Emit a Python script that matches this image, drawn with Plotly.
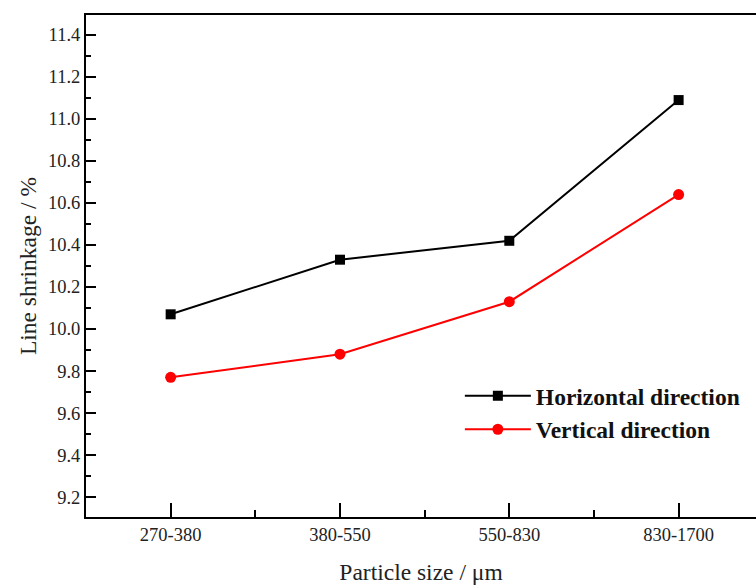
import plotly.graph_objects as go

categories = ["270-380", "380-550", "550-830", "830-1700"]
horizontal = [10.07, 10.33, 10.42, 11.09]
vertical = [9.77, 9.88, 10.13, 10.64]
y_ticks = [9.2, 9.4, 9.6, 9.8, 10.0, 10.2, 10.4, 10.6, 10.8, 11.0, 11.2, 11.4]

xpos = list(range(len(categories)))
font_family = "Liberation Serif, Times New Roman, serif"

fig = go.Figure()
fig.add_trace(go.Scatter(
    x=xpos, y=horizontal, mode="lines+markers", name="Horizontal direction",
    line=dict(color="black", width=2),
    marker=dict(symbol="square", size=10, color="black"),
))
fig.add_trace(go.Scatter(
    x=xpos, y=vertical, mode="lines+markers", name="Vertical direction",
    line=dict(color="#ff0000", width=2),
    marker=dict(symbol="circle", size=11, color="#ff0000"),
))

fig.update_layout(
    width=756, height=585,
    margin=dict(l=86, r=0, t=15, b=68),
    paper_bgcolor="white", plot_bgcolor="white",
    font=dict(family=font_family, color="#222", size=18),
    legend=dict(
        x=0.558, y=0.285, xanchor="left", yanchor="top",
        font=dict(family=font_family, size=23.5, color="#111", weight="bold"),
        bgcolor="rgba(0,0,0,0)", tracegroupgap=0, itemwidth=66,
    ),
    xaxis=dict(
        range=[-0.5, 3.457],
        tickmode="array", tickvals=xpos, ticktext=categories,
        ticks="inside", ticklen=14, tickwidth=2, tickcolor="black",
        minor=dict(tickmode="array", tickvals=[0.5, 1.5, 2.5],
                   ticks="inside", ticklen=7, tickwidth=2, tickcolor="black"),
        showline=True, linecolor="black", linewidth=2, mirror=True,
        showgrid=False, zeroline=False,
        tickfont=dict(size=18.5),
        title=dict(text="Particle size / μm", font=dict(size=23.5), standoff=23),
    ),
    yaxis=dict(
        range=[9.105, 11.495],
        tickmode="array", tickvals=y_ticks,
        ticktext=[f"{v:.1f}" for v in y_ticks],
        ticks="inside", ticklen=10, tickwidth=2, tickcolor="black",
        minor=dict(dtick=0.1, ticks="inside", ticklen=5, tickwidth=2, tickcolor="black"),
        showline=True, linecolor="black", linewidth=2, mirror=False,
        showgrid=False, zeroline=False,
        tickfont=dict(size=18.5),
        title=dict(text="Line shrinkage / %", font=dict(size=23.5), standoff=5),
    ),
)

fig.write_html("out.html")
